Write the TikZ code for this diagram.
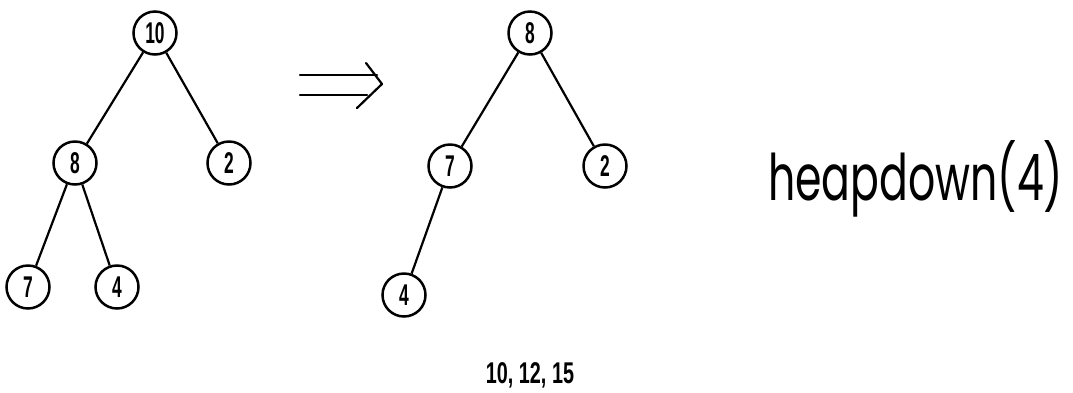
\documentclass[tikz,border=0pt]{standalone}
\usepackage{fontspec}
\usepackage{graphicx}
\newfontfamily\keyfont{Liberation Sans}[FakeStretch=0.58]
\newfontfamily\listfont{Liberation Sans}[FakeStretch=0.66]
\newfontfamily\labelfont{Poppins}
\begin{document}
\begin{tikzpicture}[x=1pt,y=-1pt,
  key/.style={circle,draw,line width=2.5pt,minimum size=43pt,inner sep=0pt,
    font=\keyfont\bfseries\fontsize{30}{30}\selectfont},
  edge/.style={line width=2.2pt},
  dbl/.style={line width=2.2pt,line cap=round,line join=round}]
\useasboundingbox (0,0) rectangle (1073,392);
% heap before heapdown
\node[key] (a10) at (155,33)  {10};
\node[key] (a8)  at (75,163)  {8};
\node[key] (a2)  at (229,163) {2};
\node[key] (a7)  at (28,287)  {7};
\node[key] (a4)  at (117,287) {4};
\draw[edge] (a10) -- (a8);
\draw[edge] (a10) -- (a2);
\draw[edge] (a8) -- (a7);
\draw[edge] (a8) -- (a4);
% implication arrow
\draw[dbl] (300,75) -- (377,75);
\draw[dbl] (300,95) -- (367,95);
\draw[dbl] (366,63) -- (382,84) -- (357,108);
% heap after heapdown
\node[key] (b8) at (530,33)  {8};
\node[key] (b7) at (450,166) {7};
\node[key] (b2) at (605,166) {2};
\node[key] (b4) at (404,295) {4};
\draw[edge] (b8) -- (b7);
\draw[edge] (b8) -- (b2);
\draw[edge] (b7) -- (b4);
% labels
\node[anchor=base west,inner sep=0pt] (op) at (768,200)
  {\resizebox{295pt}{60pt}{\labelfont\fontsize{60}{60}\selectfont heapdown(4)}};
\node[anchor=base,inner sep=0pt,font=\listfont\bfseries\fontsize{30}{30}\selectfont] (nums) at (530,383) {10, 12, 15};
\end{tikzpicture}
\end{document}
